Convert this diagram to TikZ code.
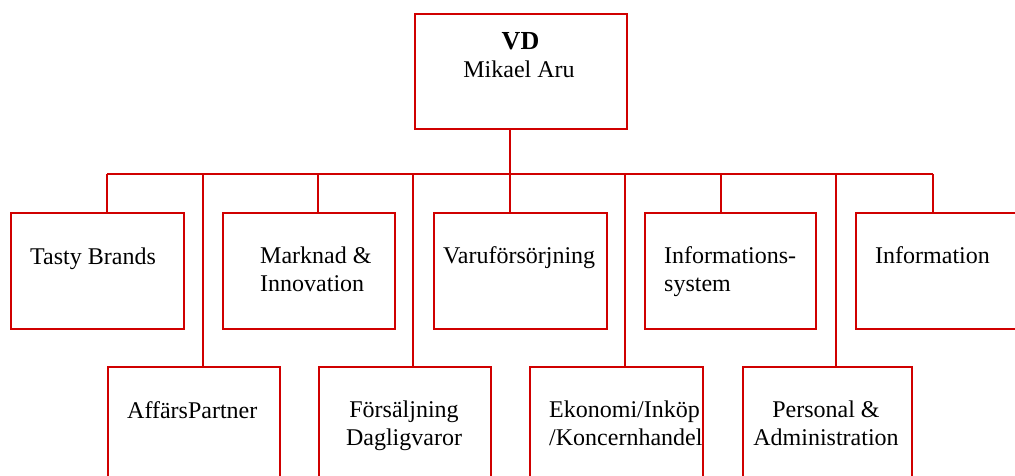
\documentclass[tikz,border=0pt]{standalone}
\usepackage{fontspec}
\setmainfont{Liberation Serif}
\begin{document}
\begin{tikzpicture}[x=1pt,y=-1pt,
  orgline/.style={draw=orgred,line width=1.9pt},
  orgbox/.style={draw=orgred,line width=1.9pt,fill=white,rectangle,inner sep=0pt,anchor=north west},
  lbl/.style={inner sep=0pt,font=\fontsize{24}{28}\selectfont,anchor=base west}]
\definecolor{orgred}{RGB}{208,0,0}
\useasboundingbox (0,0) rectangle (1015,475);
\clip (0,0) rectangle (1015,475);

% boxes (top left corner, width x height)
\node[orgbox,minimum width=212pt,minimum height=115pt] (vd) at (414,13) {};
\node[orgbox,minimum width=173pt,minimum height=116pt] (tasty) at (10,212) {};
\node[orgbox,minimum width=172pt,minimum height=116pt] (mark) at (222,212) {};
\node[orgbox,minimum width=173pt,minimum height=116pt] (varu) at (433,212) {};
\node[orgbox,minimum width=171pt,minimum height=116pt] (infsys) at (644,212) {};
\node[orgbox,minimum width=173pt,minimum height=116pt] (info) at (855,212) {};
\node[orgbox,minimum width=172pt,minimum height=120pt] (aff) at (107,366) {};
\node[orgbox,minimum width=172pt,minimum height=120pt] (fors) at (318,366) {};
\node[orgbox,minimum width=173pt,minimum height=120pt] (ekon) at (529,366) {};
\node[orgbox,minimum width=169pt,minimum height=120pt] (pers) at (742,366) {};

% drop points on the bus
\coordinate (bL) at (107,174);
\coordinate (bR) at (933,174);
\coordinate (d1) at (107,174);
\coordinate (d2) at (203,174);
\coordinate (d3) at (318,174);
\coordinate (d4) at (413,174);
\coordinate (d5) at (510,174);
\coordinate (d6) at (625,174);
\coordinate (d7) at (721,174);
\coordinate (d8) at (836,174);
\coordinate (d9) at (933,174);

% connectors
\draw[orgline] (vd.south -| d5) -- (d5);
\draw[orgline] (bL) -- (bR);
\draw[orgline] (d1) -- (tasty.north -| d1);
\draw[orgline] (d2) -- (aff.north -| d2);
\draw[orgline] (d3) -- (mark.north -| d3);
\draw[orgline] (d4) -- (fors.north -| d4);
\draw[orgline] (d5) -- (varu.north -| d5);
\draw[orgline] (d6) -- (ekon.north -| d6);
\draw[orgline] (d7) -- (infsys.north -| d7);
\draw[orgline] (d8) -- (pers.north -| d8);
\draw[orgline] (d9) -- (info.north -| d9);

% texts (multi-line nodes are placed by the baseline of their last line)
\node[lbl,anchor=base,font=\fontsize{26}{30}\selectfont\bfseries] (tvd) at (520.5,49) {VD};
\node[lbl,anchor=base] (tvd2) at (519,77) {Mikael Aru};
\node[lbl] (ttasty) at (30,264) {Tasty Brands};
\node[lbl,align=left] (tmark) at (260,291) {Marknad \&\\Innovation};
\node[lbl] (tvaru) at (443,263) {Varuförsörjning};
\node[lbl,align=left] (tinfsys) at (664,291) {Informations-\\system};
\node[lbl] (tinfo) at (875,263) {Information};
\node[lbl] (taff) at (127,418) {AffärsPartner};
\node[lbl,anchor=base,align=center] (tfors) at (404,445) {Försäljning\\Dagligvaror};
\node[lbl,align=left] (tekon) at (549,445) {Ekonomi/Inköp\\/Koncernhandel};
\node[lbl,anchor=base,align=center] (tpers) at (826,445) {Personal \&\\Administration};
\end{tikzpicture}
\end{document}
